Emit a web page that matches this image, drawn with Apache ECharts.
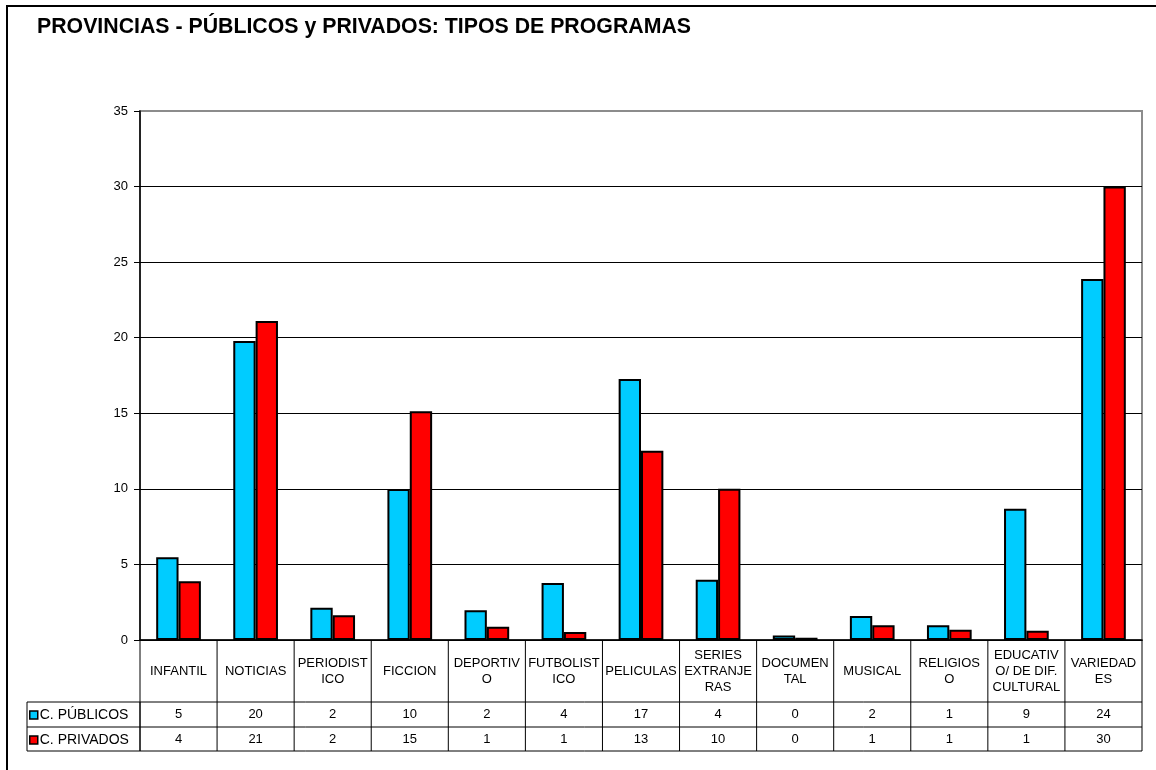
<!DOCTYPE html>
<html>
<head>
<meta charset="utf-8">
<script src="https://cdn.jsdelivr.net/npm/echarts@6/dist/echarts.min.js"></script>
<style>
  html, body { margin: 0; background: #fff; }
  #chart { width: 1156px; height: 770px; }
</style>
</head>
<body>
<div id="chart"></div>
<script>
// datos
const categories = [
  "INFANTIL", "NOTICIAS", "PERIODIST\nICO", "FICCION", "DEPORTIV\nO",
  "FUTBOLIST\nICO", "PELICULAS", "SERIES\nEXTRANJE\nRAS", "DOCUMEN\nTAL",
  "MUSICAL", "RELIGIOS\nO", "EDUCATIV\nO/ DE DIF.\nCULTURAL", "VARIEDAD\nES"
]
const publicos = [5.47, 19.78, 2.14, 9.99, 1.97, 3.77, 17.27, 3.98, 0.29, 1.59, 0.98, 8.69, 23.89]
const privados = [3.88, 21.1, 1.64, 15.13, 0.88, 0.53, 12.52, 10.0, 0.15, 0.97, 0.67, 0.62, 30.0]
const seriesNames = ["C. PÚBLICOS", "C. PRIVADOS"]
const yMin = 0
const yMax = 35
const yStep = 5

const COLORS = ["#00CCFF", "#FF0000"]
const FONT = "'Liberation Sans', Arial, sans-serif"

// layout
const GRID = { left: 140, right: 14, top: 111, bottom: 130 }
const PLOT_RIGHT = 1156 - GRID.right
const TABLE_LEFT = 27
const ROW_TOP = 702
const ROW_MID = 727
const ROW_BOTTOM = 751
const AXIS_Y = 770 - GRID.bottom

const chart = echarts.init(document.getElementById("chart"))

const line = (x1, y1, x2, y2) => ({
  type: "line",
  silent: true,
  z: 100,
  shape: { x1, y1, x2, y2 },
  style: { stroke: "#000", lineWidth: 1 }
})

// filas de la tabla de datos
const tableRow = (values, margin) => ({
  type: "category",
  data: categories,
  position: "bottom",
  axisLine: { show: false },
  axisTick: { show: false },
  axisLabel: {
    interval: 0,
    margin: margin,
    verticalAlign: "middle",
    fontSize: 13,
    fontFamily: FONT,
    color: "#000",
    formatter: (v, i) => String(Math.round(values[i]))
  }
})

const option = {
  backgroundColor: "#fff",
  animation: false,
  textStyle: { fontFamily: FONT },
  title: {
    text: "PROVINCIAS - PÚBLICOS y PRIVADOS: TIPOS DE PROGRAMAS",
    left: 37,
    top: 17,
    padding: 0,
    textStyle: { fontSize: 21.3, fontWeight: "bold", color: "#000", fontFamily: FONT }
  },
  legend: {
    orient: "vertical",
    left: 29,
    top: 708,
    padding: 0,
    itemGap: 11,
    itemWidth: 8,
    itemHeight: 8,
    icon: "rect",
    selectedMode: false,
    data: seriesNames,
    itemStyle: { borderColor: "#000", borderWidth: 1.5 },
    textStyle: { fontSize: 14, color: "#000", fontFamily: FONT, padding: [0, 0, 0, -3] }
  },
  grid: {
    ...GRID,
    show: true,
    outerBoundsMode: "none",
    containLabel: false,
    backgroundColor: "#fff",
    borderColor: "#8c8c8c",
    borderWidth: 2
  },
  xAxis: [
    {
      type: "category",
      data: categories,
      position: "bottom",
      axisLine: { show: true, lineStyle: { color: "#000", width: 1.5 } },
      axisTick: { show: false },
      axisLabel: {
        interval: 0,
        margin: 31,
        verticalAlign: "middle",
        lineHeight: 16,
        fontSize: 13,
        fontFamily: FONT,
        color: "#000"
      }
    },
    tableRow(publicos, (ROW_TOP + ROW_MID) / 2 - AXIS_Y),
    tableRow(privados, (ROW_MID + ROW_BOTTOM) / 2 - AXIS_Y)
  ],
  yAxis: {
    type: "value",
    min: yMin,
    max: yMax,
    interval: yStep,
    axisLine: { show: true, lineStyle: { color: "#000", width: 1.5 } },
    axisTick: { show: true, inside: false, length: 6, lineStyle: { color: "#000", width: 1 } },
    axisLabel: { fontSize: 13, color: "#000", margin: 12, fontFamily: FONT },
    splitLine: { show: true, showMaxLine: false, lineStyle: { color: "#000", width: 1 } }
  },
  series: [
    {
      name: seriesNames[0],
      type: "bar",
      data: publicos,
      barGap: "0%",
      barCategoryGap: "42%",
      itemStyle: { color: COLORS[0], borderColor: "#000", borderWidth: 2 }
    },
    {
      name: seriesNames[1],
      type: "bar",
      data: privados,
      barGap: "0%",
      barCategoryGap: "42%",
      itemStyle: { color: COLORS[1], borderColor: "#000", borderWidth: 2 }
    }
  ],
  graphic: [
    // marco exterior
    {
      type: "rect",
      silent: true,
      shape: { x: 7, y: 6, width: 1300, height: 900 },
      style: { fill: "none", stroke: "#000", lineWidth: 2 }
    },
    line(TABLE_LEFT, ROW_TOP, PLOT_RIGHT, ROW_TOP),
    line(TABLE_LEFT, ROW_MID, PLOT_RIGHT, ROW_MID),
    line(TABLE_LEFT, ROW_BOTTOM, PLOT_RIGHT, ROW_BOTTOM),
    line(TABLE_LEFT, ROW_TOP, TABLE_LEFT, ROW_BOTTOM)
  ]
}

chart.setOption(option)

// separadores de columnas de la tabla, en los limites de cada categoria
const bounds = categories.map((c, i) => chart.convertToPixel({ xAxisIndex: 0 }, i))
const step = bounds.length > 1 ? bounds[1] - bounds[0] : 0
const edges = [bounds[0] - step / 2].concat(bounds.map(b => b + step / 2))
const sepLines = edges.map(x => line(x, AXIS_Y, x, ROW_BOTTOM))
sepLines.push(line(GRID.left, ROW_TOP, GRID.left, ROW_BOTTOM))
chart.setOption({ graphic: option.graphic.concat(sepLines) })
</script>
</body>
</html>
